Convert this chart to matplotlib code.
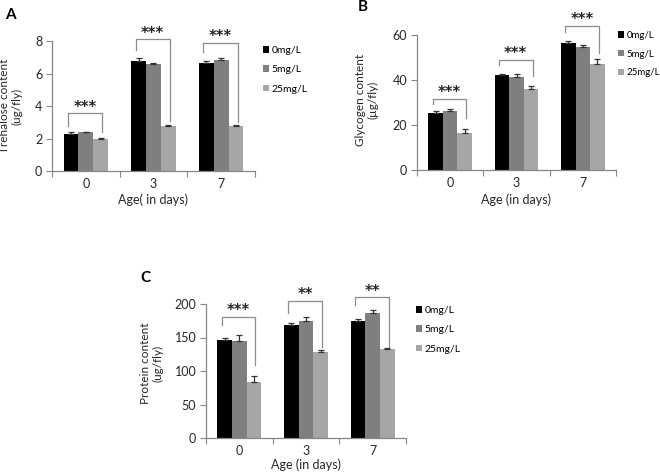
import matplotlib
matplotlib.use("Agg")
import matplotlib.pyplot as plt
from matplotlib.patches import Patch
import numpy as np

plt.rcParams['font.family'] = ['Lato', 'DejaVu Sans']

ages = ["0", "3", "7"]
doses = ["0mg/L", "5mg/L", "25mg/L"]
colors = ["#000000", "#7f7f7f", "#a6a6a6"]

# Panel A: trehalose
treh_0 = [2.30, 6.75, 6.65]
treh_5 = [2.38, 6.60, 6.85]
treh_25 = [1.95, 2.75, 2.75]
treh_err_0 = [0.08, 0.20, 0.10]
treh_err_5 = [0.05, 0.04, 0.10]
treh_err_25 = [0.07, 0.08, 0.10]
treh_sig = ["***", "***", "***"]
treh_br_top = [3.55, 8.1, 7.9]
treh_br_left = [2.75, 7.45, 7.35]
treh_br_right = [2.4, 3.1, 3.0]

# Panel B: glycogen
glyc_0 = [25.3, 42.0, 56.5]
glyc_5 = [26.0, 41.2, 54.7]
glyc_25 = [16.5, 36.0, 47.2]
glyc_err_0 = [0.8, 0.5, 0.7]
glyc_err_5 = [1.0, 1.5, 0.9]
glyc_err_25 = [1.5, 1.2, 2.2]
glyc_sig = ["***", "***", "***"]
glyc_br_top = [31.7, 48.9, 64.0]
glyc_br_left = [29.5, 46.7, 61.5]
glyc_br_right = [23.0, 41.8, 51.9]

# Panel C: protein
prot_0 = [147, 169, 175]
prot_5 = [145, 175, 186]
prot_25 = [84, 128, 133]
prot_err_0 = [3, 2, 2]
prot_err_5 = [8, 6, 5]
prot_err_25 = [8, 4, 2]
prot_sig = ["***", "**", "**"]
prot_br_top = [181, 205, 210]
prot_br_left = [168, 186, 198]
prot_br_right = [109, 136, 136]

W, H = 660, 472
fig = plt.figure(figsize=(W / 100, H / 100), dpi=100)

axis_col = "#868686"
txt_col = "#262626"
bw = 0.22


def panel(rect_px, vals, errs, ylim, yticks, ylabel, xlabel, letter, letter_px,
          ylab_px, xlab_px, sig, br_top, br_left, br_right, leg_px, leg_size):
    l, t, r, b = rect_px
    ax = fig.add_axes([l / W, 1 - b / H, (r - l) / W, (b - t) / H])
    x = np.arange(len(ages))
    for i, (v, e) in enumerate(zip(vals, errs)):
        ax.bar(x + (i - 1) * bw, v, width=bw, color=colors[i], zorder=2)
        ax.errorbar(x + (i - 1) * bw, v, yerr=[np.zeros(len(v)), e], fmt='none',
                    ecolor="#333333", elinewidth=0.9, capsize=2.5, capthick=0.9, zorder=3)
    ax.set_xlim(-0.5, 2.5)
    ax.set_ylim(*ylim)
    ax.set_yticks(yticks)
    ax.set_xticks([-0.5, 0.5, 1.5, 2.5])
    ax.set_xticklabels([])
    ax.set_xticks(x, minor=True)
    ax.set_xticklabels(ages, minor=True)
    ax.tick_params(axis='x', which='major', direction='out', length=4, color=axis_col)
    ax.tick_params(axis='x', which='minor', length=0, pad=5, labelsize=9, labelcolor=txt_col)
    ax.tick_params(axis='y', direction='out', length=4, color=axis_col, labelsize=9,
                   labelcolor=txt_col, pad=3)
    for s in ["top", "right"]:
        ax.spines[s].set_visible(False)
    for s in ["left", "bottom"]:
        ax.spines[s].set_color(axis_col)
        ax.spines[s].set_linewidth(0.9)
    fig.text(ylab_px[0] / W, 1 - ylab_px[1] / H, ylabel, rotation=90,
             ha='center', va='center', fontsize=8.5, color=txt_col, linespacing=1.15)
    fig.text(xlab_px[0] / W, 1 - xlab_px[1] / H, xlabel, ha='center', va='center',
             fontsize=9, color=txt_col)
    fig.text(letter_px[0] / W, 1 - letter_px[1] / H, letter, fontsize=11,
             fontweight='bold', ha='left', va='center')
    for g in range(len(ages)):
        xl = x[g] - bw - 0.2 * bw
        xr = x[g] + bw + 0.1 * bw
        ax.plot([xl, xl, xr, xr], [br_left[g], br_top[g], br_top[g], br_right[g]],
                color="#8c8c8c", lw=0.9, zorder=4, clip_on=False)
        ax.annotate(sig[g], ((xl + xr) / 2, br_top[g]), xytext=(0, -1),
                    textcoords='offset points', ha='center', va='bottom',
                    fontsize=10.5, fontweight='bold', color=txt_col,
                    family='DejaVu Sans', annotation_clip=False)
    handles = [Patch(facecolor=c, edgecolor='none') for c in colors]
    lx, ly = leg_px
    ax.legend(handles, doses, loc='upper left',
              bbox_to_anchor=(lx / W, 1 - ly / H), bbox_transform=fig.transFigure,
              frameon=False, fontsize=leg_size, handlelength=0.6, handleheight=0.6,
              handletextpad=0.25, labelspacing=1.0, borderaxespad=0, borderpad=0)
    return ax


panel((52, 41, 255, 171), [treh_0, treh_5, treh_25],
      [treh_err_0, treh_err_5, treh_err_25], (0, 8), [0, 2, 4, 6, 8],
      "Trehalose content\n(ug/fly)", "Age( in days)", "A", (5, 15),
      (11, 106), (153, 200), treh_sig, treh_br_top, treh_br_left, treh_br_right, (263, 46), 7.5)

panel((417, 35, 616, 170), [glyc_0, glyc_5, glyc_25],
      [glyc_err_0, glyc_err_5, glyc_err_25], (0, 60), [0, 20, 40, 60],
      "Glycogen content\n(µg/fly)", "Age (in days)", "B", (358, 7),
      (367, 100), (516, 200), glyc_sig, glyc_br_top, glyc_br_left, glyc_br_right, (618, 31), 7)

panel((206, 304, 406, 438), [prot_0, prot_5, prot_25],
      [prot_err_0, prot_err_5, prot_err_25], (0, 200), [0, 50, 100, 150, 200],
      "Protein content\n(ug/fly)", "Age (in days)", "C", (140, 278),
      (152, 363), (306, 465), prot_sig, prot_br_top, prot_br_left, prot_br_right, (416, 306), 7.5)

fig.savefig("out.png", dpi=100, facecolor='white')
